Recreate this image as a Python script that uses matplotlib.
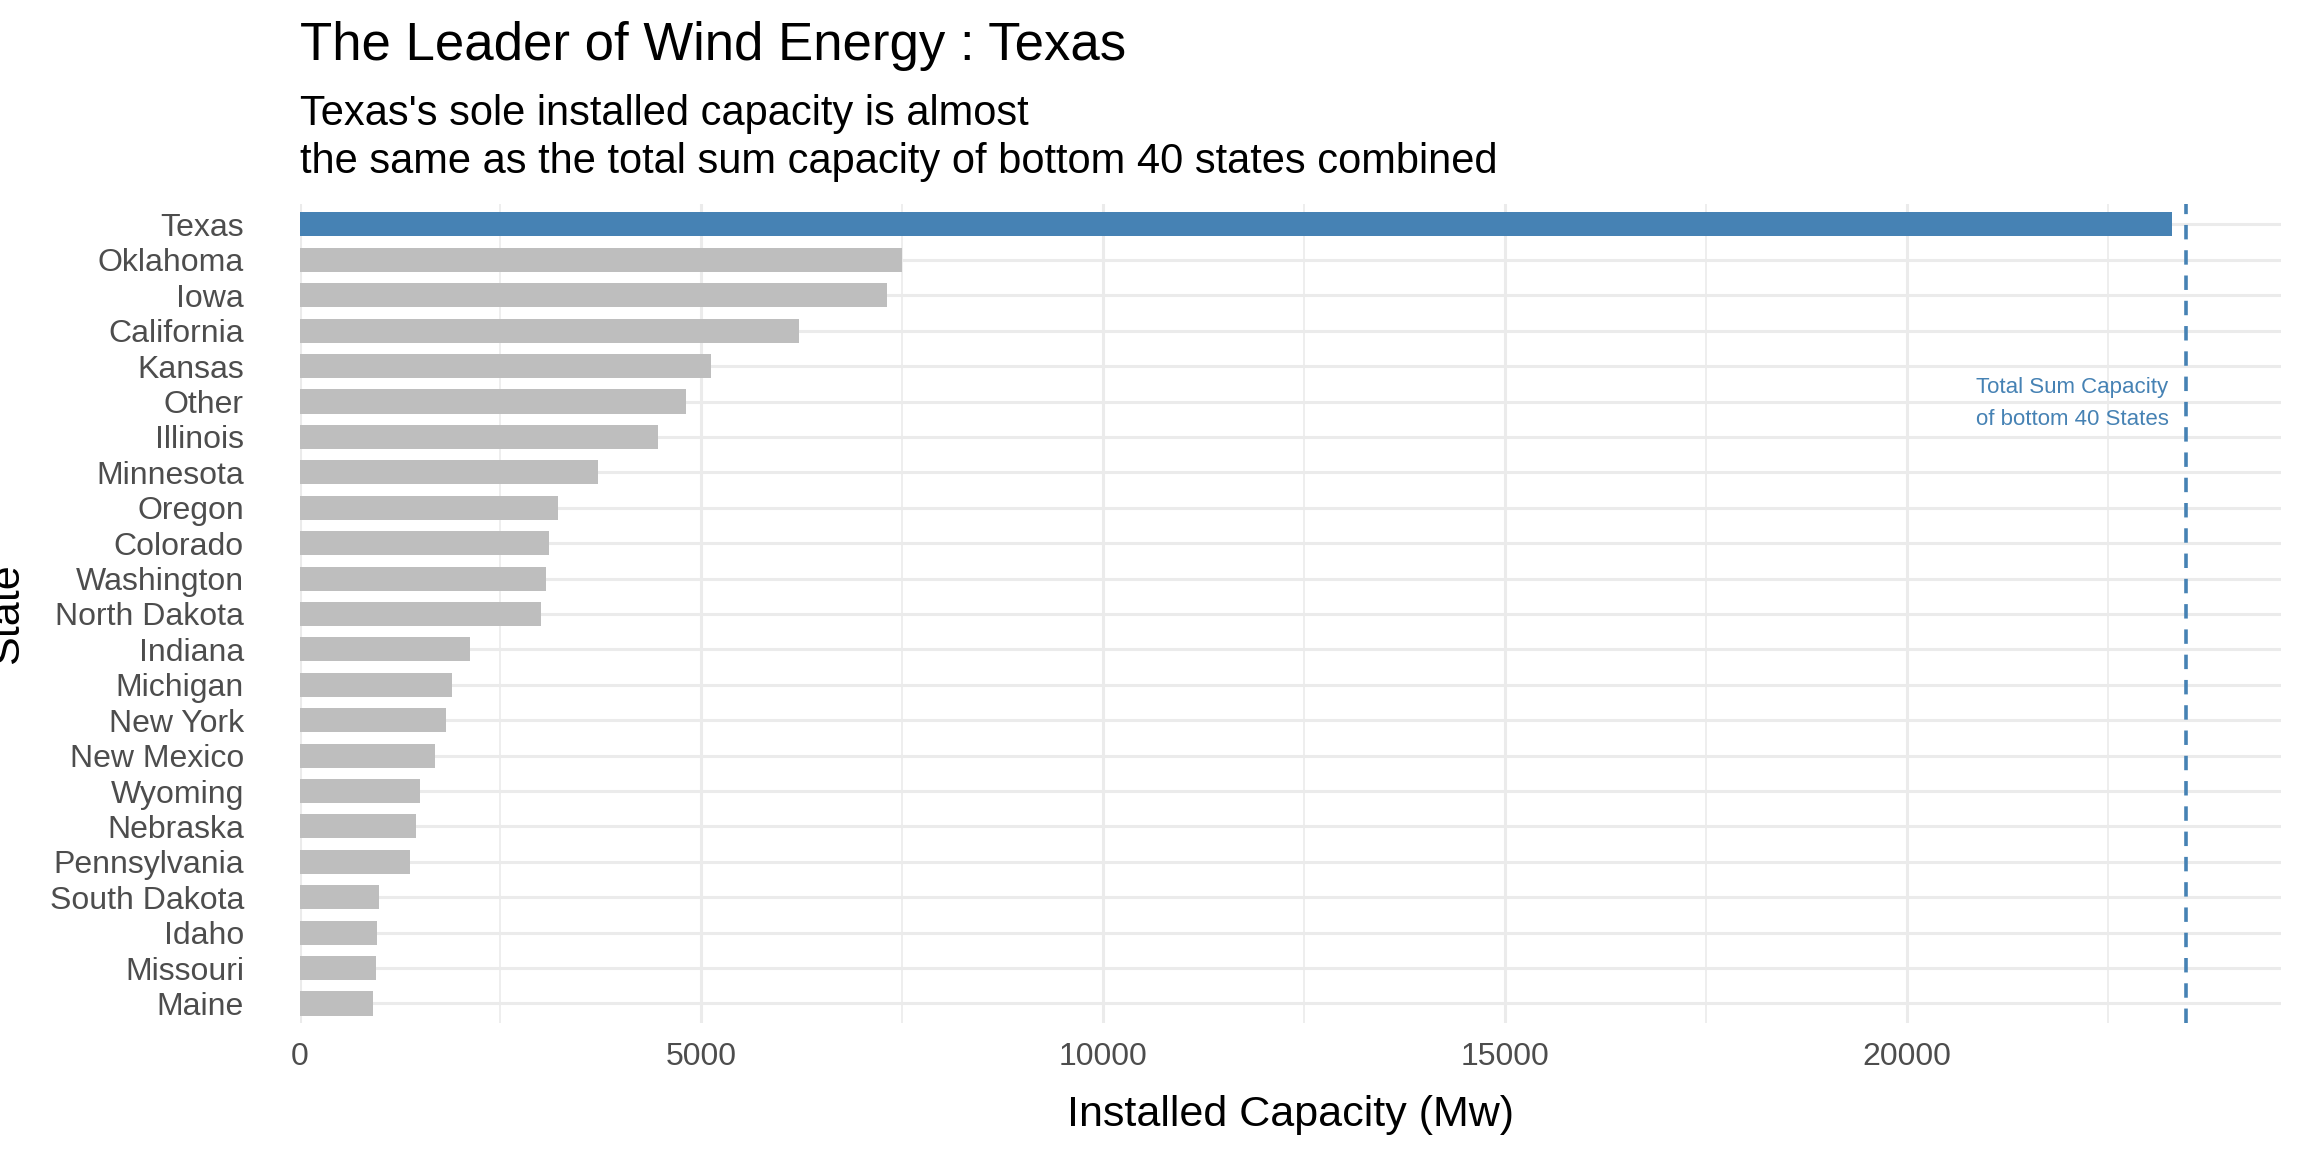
import matplotlib.pyplot as plt
from matplotlib.ticker import MultipleLocator

states = ["Texas", "Oklahoma", "Iowa", "California", "Kansas", "Other", "Illinois",
          "Minnesota", "Oregon", "Colorado", "Washington", "North Dakota", "Indiana",
          "Michigan", "New York", "New Mexico", "Wyoming", "Nebraska", "Pennsylvania",
          "South Dakota", "Idaho", "Missouri", "Maine"]
capacity = [23290, 7495, 7310, 6216, 5119, 4808, 4461, 3711, 3218, 3108, 3071, 2998,
            2121, 1901, 1828, 1682, 1499, 1444, 1371, 987, 969, 951, 914]
bottom40_total = 23470

plt.rcParams['font.family'] = ['Liberation Sans', 'DejaVu Sans']
fig, ax = plt.subplots(figsize=(11.52, 5.76), dpi=200)
fig.subplots_adjust(left=0.130, right=0.99, top=0.823, bottom=0.112)

colors = ["#4682B4" if s == "Texas" else "#BEBEBE" for s in states]
y = list(range(len(states)))[::-1]
ax.barh(y, capacity, height=0.68, color=colors, zorder=2)
ax.axvline(bottom40_total, color="#4682B4", linestyle=(0, (4, 3)), lw=1.3, zorder=3)
ax.text(bottom40_total - 220, y[5] - 0.05, "Total Sum Capacity\nof bottom 40 States",
        color="#4682B4", fontsize=8, ha="right", va="center", linespacing=1.7)

ax.set_yticks(y)
ax.set_yticklabels(states)
ax.set_ylim(-0.55, len(states) - 0.42)
ax.set_xlim(0, 24650)
ax.xaxis.set_major_locator(MultipleLocator(5000))
ax.xaxis.set_minor_locator(MultipleLocator(2500))
ax.grid(True, which="major", color="#EBEBEB", lw=1.1, zorder=0)
ax.grid(True, which="minor", axis="x", color="#EBEBEB", lw=0.6, zorder=0)
ax.tick_params(which="both", length=0, labelsize=11.5, labelcolor="#4D4D4D")
ax.tick_params(axis="y", pad=20)
ax.tick_params(axis="x", pad=7)
for s in ax.spines.values():
    s.set_visible(False)

ax.set_xlabel("Installed Capacity (Mw)", fontsize=15.5, labelpad=8)
ax.set_ylabel("State", fontsize=15.5, labelpad=8)
fig.text(0.130, 0.96, "The Leader of Wind Energy : Texas", fontsize=19, va="center")
fig.text(0.130, 0.88, "Texas's sole installed capacity is almost\nthe same as the total sum capacity of bottom 40 states combined",
         fontsize=15, va="center", linespacing=1.25)

fig.savefig("out.png")
